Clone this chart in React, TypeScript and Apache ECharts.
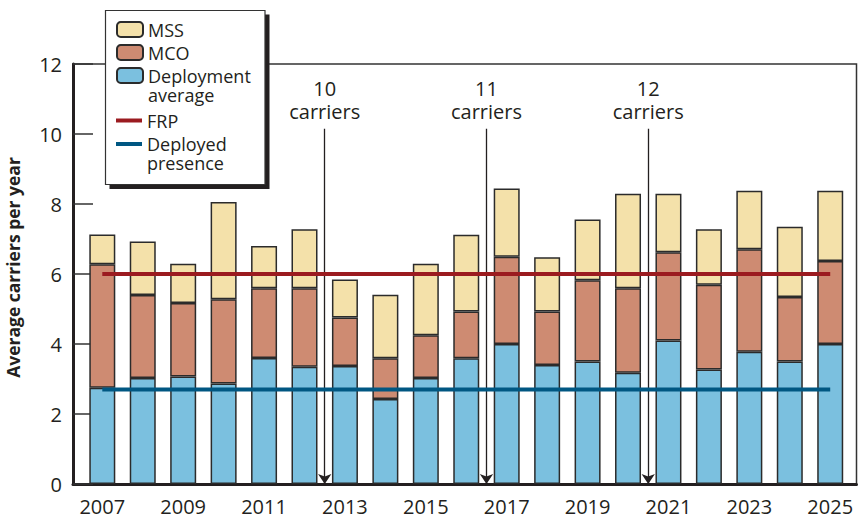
import React, { useEffect, useRef } from "react";
import * as echarts from "echarts";

const years = [2007, 2008, 2009, 2010, 2011, 2012, 2013, 2014, 2015, 2016, 2017, 2018, 2019, 2020, 2021, 2022, 2023, 2024, 2025];
const deploymentAverage = [2.75, 3.03, 3.07, 2.87, 3.6, 3.35, 3.37, 2.43, 3.03, 3.59, 4.0, 3.4, 3.5, 3.18, 4.1, 3.27, 3.78, 3.5, 4.0];
const mco = [3.53, 2.37, 2.1, 2.41, 1.99, 2.24, 1.39, 1.16, 1.22, 1.34, 2.49, 1.53, 2.32, 2.41, 2.52, 2.42, 2.93, 1.84, 2.37];
const mss = [0.85, 1.53, 1.12, 2.78, 1.21, 1.69, 1.08, 1.82, 2.04, 2.19, 1.95, 1.55, 1.74, 2.7, 1.67, 1.59, 1.67, 2.01, 2.01];
const frpLevel = 6;
const deployedPresenceLevel = 2.7;
const xTickLabels = [2007, 2009, 2011, 2013, 2015, 2017, 2019, 2021, 2023, 2025];
const yTicks = [0, 2, 4, 6, 8, 10, 12];
const annotationYears = [2012.5, 2016.5, 2020.5];
const annotationTexts = ["10\ncarriers", "11\ncarriers", "12\ncarriers"];
const annotationTop = 10.15;
const annotationBottom = 0;

const FONT = "'Open Sans', 'Noto Sans', sans-serif";
const INK = "#231f20";

export default function App() {
  const ref = useRef<HTMLDivElement>(null);

  useEffect(() => {
    document.body.style.margin = "0";
    if (!ref.current) return;
    const chart = echarts.init(ref.current, undefined, { renderer: "svg" });

    const barBorder = { borderColor: "#2b2b2b", borderWidth: 1.5 };
    const legendText = { fontFamily: FONT, fontSize: 18, color: INK };
    const legendBase = {
      orient: "vertical",
      left: 116,
      padding: 0,
      itemWidth: 26,
      selectedMode: false,
      z: 20,
    };

    chart.setOption({
      animation: false,
      backgroundColor: "#ffffff",
      textStyle: { fontFamily: FONT },
      grid: [
        {
          left: 73,
          right: 1.5,
          top: 64,
          bottom: 32,
          show: true,
          borderColor: "#333",
          borderWidth: 1.5,
          backgroundColor: "transparent",
          containLabel: false,
          outerBoundsMode: "none",
        },
        {
          left: 82.08,
          right: 7.56,
          top: 64,
          bottom: 32,
          show: false,
          containLabel: false,
          outerBoundsMode: "none",
        },
      ],
      xAxis: [
        {
          type: "value",
          gridIndex: 0,
          min: 2006.2755,
          max: 2025.65,
          axisLine: { show: true, lineStyle: { color: INK, width: 3 } },
          axisTick: { show: false },
          splitLine: { show: false },
          axisLabel: {
            customValues: xTickLabels,
            formatter: (v: number) => String(v),
            fontSize: 20,
            lineHeight: 20,
            color: INK,
            fontFamily: FONT,
            margin: 12,
          },
        },
        {
          type: "category",
          gridIndex: 1,
          data: years.map(String),
          boundaryGap: true,
          show: false,
        },
      ],
      yAxis: [
        {
          type: "value",
          gridIndex: 0,
          min: yTicks[0],
          max: yTicks[yTicks.length - 1],
          interval: 2,
          name: "Average carriers per year",
          nameLocation: "middle",
          nameRotate: 90,
          nameGap: 51,
          nameMoveOverlap: false,
          nameTextStyle: {
            fontFamily: FONT,
            fontSize: 17.5,
            fontWeight: "bold",
            color: INK,
            padding: [0, 0, 0, 13],
          },
          axisLine: { show: true, lineStyle: { color: INK, width: 3 } },
          axisTick: { show: true, inside: true, length: 20, lineStyle: { color: "#333", width: 1.5 } },
          splitLine: { show: false },
          axisLabel: { fontSize: 20, color: INK, fontFamily: FONT, margin: 11 },
        },
        {
          type: "value",
          gridIndex: 1,
          min: yTicks[0],
          max: yTicks[yTicks.length - 1],
          show: false,
          splitLine: { show: false },
        },
      ],
      legend: [
        {
          ...legendBase,
          data: ["MSS", "MCO"],
          top: 18,
          itemGap: 0,
          itemHeight: 15,
          textStyle: { ...legendText, lineHeight: 23 },
        },
        {
          ...legendBase,
          data: ["Deployment average"],
          top: 47,
          itemHeight: 15,
          formatter: () => "\nDeployment\naverage",
          textStyle: { ...legendText, lineHeight: 19 },
        },
        {
          ...legendBase,
          data: [{ name: "FRP", icon: "rect" }],
          top: 109,
          itemHeight: 4,
          textStyle: { ...legendText, lineHeight: 23 },
        },
        {
          ...legendBase,
          data: [{ name: "Deployed presence", icon: "rect" }],
          top: 115.5,
          itemHeight: 4,
          formatter: () => "\nDeployed\npresence",
          textStyle: { ...legendText, lineHeight: 19 },
        },
      ],
      graphic: [
        {
          type: "rect",
          z: 10,
          shape: { x: 109.5, y: 14.5, width: 160, height: 174.5 },
          style: { fill: "#231f20" },
          silent: true,
        },
        {
          type: "rect",
          z: 11,
          shape: { x: 105.5, y: 10.5, width: 159.5, height: 174 },
          style: { fill: "#ffffff", stroke: "#333", lineWidth: 1.2 },
          silent: true,
        },
      ],
      series: [
        {
          name: "Deployment average",
          type: "bar",
          xAxisIndex: 1,
          yAxisIndex: 1,
          stack: "total",
          barWidth: 26,
          itemStyle: { color: "#7bc0df", ...barBorder },
          data: deploymentAverage,
        },
        {
          name: "MCO",
          type: "bar",
          xAxisIndex: 1,
          yAxisIndex: 1,
          stack: "total",
          barWidth: 26,
          itemStyle: { color: "#ce8b72", ...barBorder },
          data: mco,
        },
        {
          name: "MSS",
          type: "bar",
          xAxisIndex: 1,
          yAxisIndex: 1,
          stack: "total",
          barWidth: 26,
          itemStyle: { color: "#f4e1aa", ...barBorder },
          data: mss,
        },
        {
          name: "FRP",
          type: "line",
          xAxisIndex: 0,
          yAxisIndex: 0,
          symbol: "none",
          lineStyle: { color: "#9b1b20", width: 4 },
          itemStyle: { color: "#9b1b20" },
          data: [
            [years[0], frpLevel],
            [years[years.length - 1], frpLevel],
          ],
          z: 5,
          markLine: {
            silent: true,
            symbol: ["none", "arrow"],
            symbolSize: 10,
            lineStyle: { color: INK, width: 1.3, type: "solid" },
            label: {
              show: true,
              position: "start",
              distance: 6,
              formatter: "{b}",
              fontFamily: FONT,
              fontSize: 20,
              color: INK,
              lineHeight: 23,
              align: "center",
            },
            data: annotationYears.map((x, i) => [
              { name: annotationTexts[i], coord: [x, annotationTop] },
              { coord: [x, annotationBottom] },
            ]),
          },
        },
        {
          name: "Deployed presence",
          type: "line",
          xAxisIndex: 0,
          yAxisIndex: 0,
          symbol: "none",
          lineStyle: { color: "#005782", width: 4 },
          itemStyle: { color: "#005782" },
          data: [
            [years[0], deployedPresenceLevel],
            [years[years.length - 1], deployedPresenceLevel],
          ],
          z: 5,
        },
      ],
    });

    return () => chart.dispose();
  }, []);

  return <div ref={ref} style={{ width: 858, height: 516 }} />;
}
